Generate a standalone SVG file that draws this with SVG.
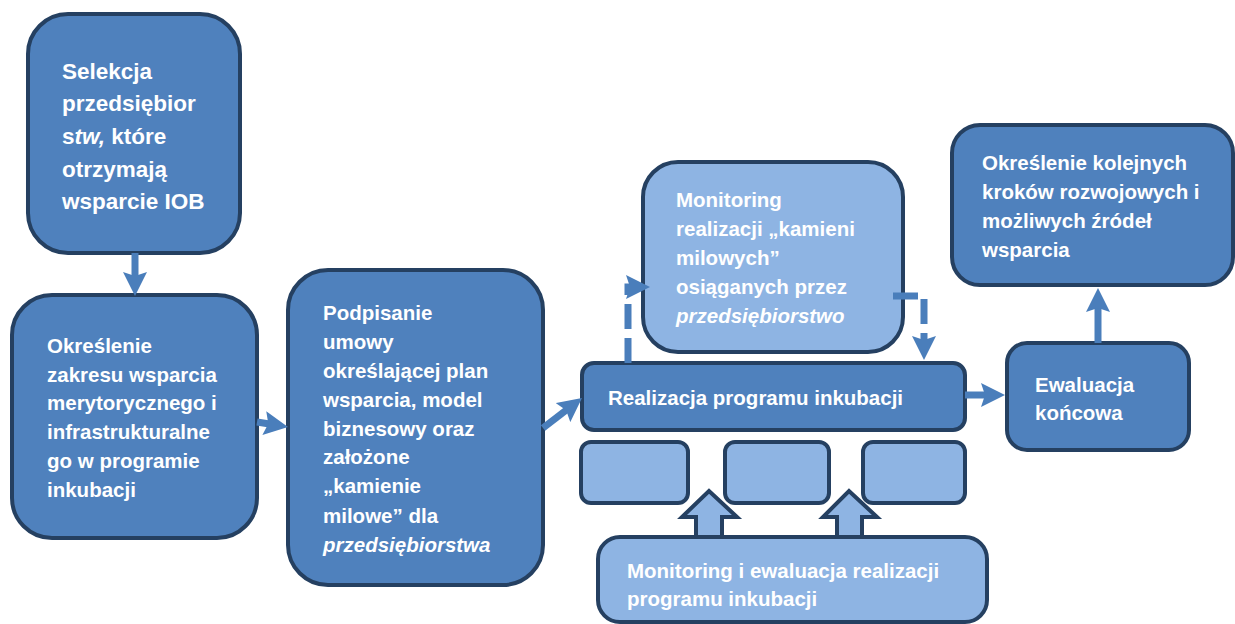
<svg xmlns="http://www.w3.org/2000/svg" width="1235" height="624" viewBox="0 0 1235 624">
<defs>
<style>
.dk{fill:#4f81bd;stroke:#254061;stroke-width:4}
.lt{fill:#8eb4e3;stroke:#254061;stroke-width:4}
text{font-family:"Liberation Sans",Arial,sans-serif;font-weight:bold;fill:#ffffff;font-size:20.5px}
.big{font-size:22.5px}
.it{font-style:italic}
.con{fill:none;stroke:#4a7ebb;stroke-width:7}
.dash{stroke-dasharray:25 9}
.blk{fill:#8eb4e3;stroke:#254061;stroke-width:4;stroke-linejoin:miter}
</style>
<marker id="ah" viewBox="0 0 24 24" refX="10" refY="12" markerWidth="24" markerHeight="24" markerUnits="userSpaceOnUse" orient="auto">
<path d="M0,0 L24,12 L0,24 L4,12 Z" fill="#4a7ebb"/>
</marker>
</defs>
<rect width="1235" height="624" fill="#ffffff"/>
<g id="n-selekcja">
<rect class="dk" x="28" y="14" width="212" height="239" rx="40"/>
<text class="big" x="62" y="79">Selekcja</text>
<text class="big" x="62" y="111">przedsiębior</text>
<text class="big" x="62" y="144">s<tspan class="it">tw,</tspan> które</text>
<text class="big" x="62" y="177">otrzymają</text>
<text class="big" x="62" y="209">wsparcie IOB</text>
</g>
<g id="n-okreslenie-zakresu">
<rect class="dk" x="12" y="295" width="245" height="243" rx="40"/>
<text x="47" y="353">Określenie</text>
<text x="47" y="382">zakresu wsparcia</text>
<text x="47" y="410">merytorycznego i</text>
<text x="47" y="439">infrastrukturalne</text>
<text x="47" y="468">go w programie</text>
<text x="47" y="497">inkubacji</text>
</g>
<g id="n-podpisanie">
<rect class="dk" x="288" y="270" width="255" height="315" rx="40"/>
<text x="323" y="320">Podpisanie</text>
<text x="323" y="349">umowy</text>
<text x="323" y="378">określającej plan</text>
<text x="323" y="407">wsparcia, model</text>
<text x="323" y="436">biznesowy oraz</text>
<text x="323" y="464">założone</text>
<text x="323" y="493">„kamienie</text>
<text x="323" y="523">milowe” dla</text>
<text class="it" x="323" y="552">przedsiębiorstwa</text>
</g>
<g id="n-monitoring-kamieni">
<rect class="lt" x="643" y="162" width="260" height="190" rx="35"/>
<text x="676" y="207">Monitoring</text>
<text x="676" y="236">realizacji „kamieni</text>
<text x="676" y="265">milowych”</text>
<text x="676" y="294">osiąganych przez</text>
<text class="it" x="676" y="323">przedsiębiorstwo</text>
</g>
<g id="n-realizacja">
<rect class="dk" x="582" y="363" width="383" height="67" rx="12"/>
<text x="608" y="405">Realizacja programu inkubacji</text>
</g>
<g id="n-sub1"><rect class="lt" x="581" y="442" width="107" height="61" rx="10"/></g>
<g id="n-sub2"><rect class="lt" x="725" y="442" width="104" height="61" rx="10"/></g>
<g id="n-sub3"><rect class="lt" x="863" y="442" width="102" height="61" rx="10"/></g>
<g id="n-monitoring-ewaluacja">
<rect class="lt" x="598" y="537" width="389" height="85" rx="22"/>
<text x="627" y="578">Monitoring i ewaluacja realizacji</text>
<text x="627" y="606">programu inkubacji</text>
</g>
<g id="n-okreslenie-krokow">
<rect class="dk" x="952" y="125" width="281" height="160" rx="28"/>
<text x="982" y="170">Określenie kolejnych</text>
<text x="982" y="199">kroków rozwojowych i</text>
<text x="982" y="228">możliwych źródeł</text>
<text x="982" y="257">wsparcia</text>
</g>
<g id="n-ewaluacja">
<rect class="dk" x="1007" y="343" width="182" height="107" rx="20"/>
<text x="1035" y="392">Ewaluacja</text>
<text x="1035" y="420">końcowa</text>
</g>
<g id="connectors">
<path class="con" d="M135,253 V282" marker-end="url(#ah)"/>
<path class="con" d="M257,422 L274.2,424.8" marker-end="url(#ah)"/>
<path class="con" d="M543,428 L570.9,406.5" marker-end="url(#ah)"/>
<path class="con" d="M965,395 H991" marker-end="url(#ah)"/>
<path class="con" d="M1098,343 V302" marker-end="url(#ah)"/>
<path class="con dash" d="M628,363 V287 H636" marker-end="url(#ah)"/>
<path class="con dash" d="M893,296 H924 V346" marker-end="url(#ah)"/>
<polygon class="blk" points="696,537 696,517 682,517 709,491 737,517 722,517 722,537"/>
<polygon class="blk" points="837,537 837,517 823,517 849,491 877,517 862,517 862,537"/>
</g>
</svg>
